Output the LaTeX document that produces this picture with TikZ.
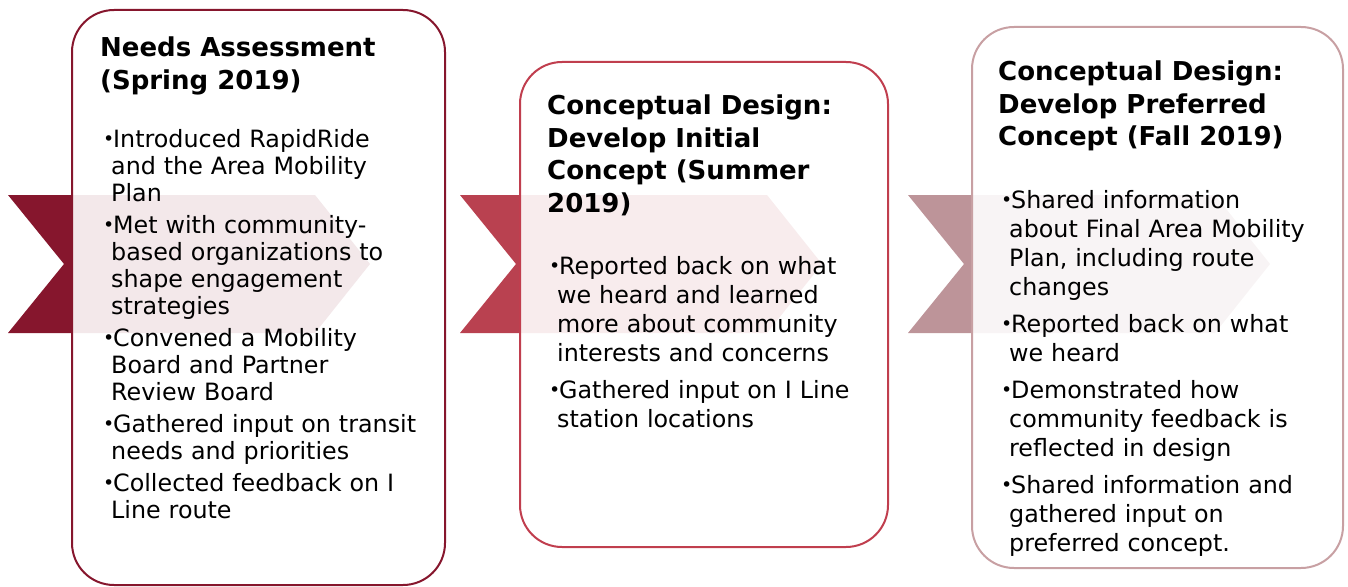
\documentclass[tikz,border=0pt]{standalone}
\usepackage{fontspec}
\setmainfont{DejaVu Sans}
\usetikzlibrary{positioning}

\definecolor{wine}{RGB}{134,22,45}
\definecolor{rose}{RGB}{185,65,80}
\definecolor{roseline}{RGB}{192,62,78}
\definecolor{mauve}{RGB}{189,148,153}
\definecolor{mauveline}{RGB}{200,160,163}

% one bullet point, later lines hang under the text
\newcommand{\phaseitem}[1]{\noindent\hangindent=8pt\hangafter=1%
  \makebox[10pt][l]{\raisebox{1.5pt}{\fontsize{19}{19}\selectfont•}}#1\par}

\tikzset{
  phasebox/.style = {draw, line width=2pt, rounded corners=42pt, fill=white,
    fill opacity=0.9, inner sep=0pt, outer sep=0pt, anchor=north west},
  phasetitle/.style = {inner sep=0pt, align=left,
    font=\bfseries\fontsize{26}{32.5}\selectfont},
  phasetext/.style = {inner sep=0pt, align=left, text width=340pt,
    font=\fontsize{23.8}{29}\selectfont\setlength{\parskip}{8pt}},
  phasetight/.style = {phasetext,
    font=\fontsize{23.8}{27}\selectfont\setlength{\parskip}{5pt}}% first box is set a bit closer
}

\begin{document}
\begin{tikzpicture}[x=1pt, y=-1pt]
  \clip (0,0) rectangle (1348,586);

  % chevrons behind the boxes
  \foreach \x/\c in {8/wine, 460/rose, 908/mauve}
    \fill[\c] (\x,195) -- ++(307,0) -- ++(55,69) -- ++(-55,69) -- ++(-307,0)
      -- ++(56,-69) -- cycle;

  % the three phases
  \node[phasebox, draw=wine, minimum width=373pt, minimum height=575pt]
    (needs) at (72,10) {};
  \node[phasebox, draw=roseline, minimum width=368pt, minimum height=485pt]
    (initial) at (520,62) {};
  \node[phasebox, draw=mauveline, minimum width=371pt, minimum height=541pt]
    (preferred) at (972,27) {};

  \node[phasetitle, below right=27pt and 28pt of needs.north west] (needs title)
    {Needs Assessment\\(Spring 2019)};
  \node[phasetight, below right=119pt and 31pt of needs.north west] (needs list) {%
    \phaseitem{Introduced RapidRide\newline and the Area Mobility\newline Plan}
    \phaseitem{Met with community-\newline based organizations to\newline shape engagement\newline strategies}
    \phaseitem{Convened a Mobility\newline Board and Partner\newline Review Board}
    \phaseitem{Gathered input on transit\newline needs and priorities}
    \phaseitem{Collected feedback on I\newline Line route}};

  \node[phasetitle, below right=33pt and 27pt of initial.north west] (initial title)
    {Conceptual Design:\\Develop Initial\\Concept (Summer\\2019)};
  \node[phasetext, below right=194pt and 29pt of initial.north west] (initial list) {%
    \phaseitem{Reported back on what\newline we heard and learned\newline more about community\newline interests and concerns}
    \phaseitem{Gathered input on I Line\newline station locations}};

  \node[phasetitle, below right=34pt and 26pt of preferred.north west] (preferred title)
    {Conceptual Design:\\Develop Preferred\\Concept (Fall 2019)};
  \node[phasetext, below right=163pt and 29pt of preferred.north west] (preferred list) {%
    \phaseitem{Shared information\newline about Final Area Mobility\newline Plan, including route\newline changes}
    \phaseitem{Reported back on what\newline we heard}
    \phaseitem{Demonstrated how\newline community feedback is\newline reflected in design}
    \phaseitem{Shared information and\newline gathered input on\newline preferred concept.}};
\end{tikzpicture}
\end{document}
